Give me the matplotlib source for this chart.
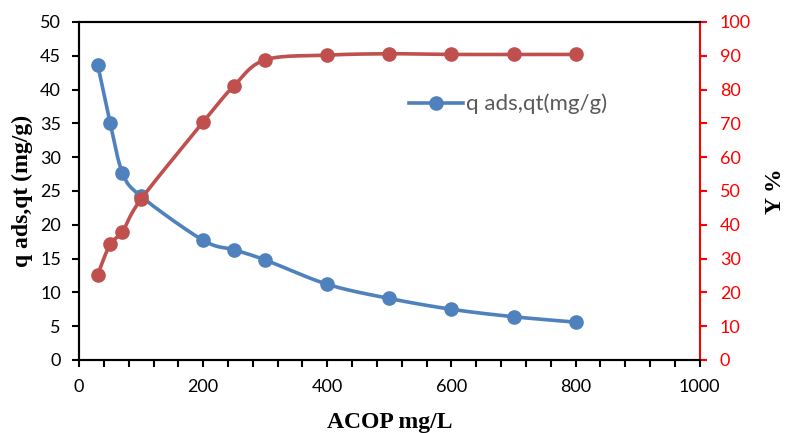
import numpy as np
import matplotlib
matplotlib.use("Agg")
import matplotlib.pyplot as plt
from matplotlib.ticker import MultipleLocator

# data
acop = [30, 50, 70, 100, 200, 250, 300, 400, 500, 600, 700, 800]
q_ads = [43.7, 35.1, 27.7, 24.2, 17.7, 16.3, 14.8, 11.2, 9.1, 7.5, 6.4, 5.6]
y_pct = [25.2, 34.2, 38.0, 47.6, 70.4, 81.2, 88.8, 90.2, 90.6, 90.4, 90.4, 90.4]

blue = "#4F81BD"
red = "#C0504D"


def smooth(x, y, xs, ys, n=30):
    # Excel-like smoothing: cubic bezier with catmull-rom control points,
    # computed in pixel-ish space so the curve shape follows the plot
    px = np.asarray(x, float) * xs
    py = np.asarray(y, float) * ys
    ox, oy = [], []
    for i in range(len(px) - 1):
        p0 = (px[max(i - 1, 0)], py[max(i - 1, 0)])
        p1 = (px[i], py[i])
        p2 = (px[i + 1], py[i + 1])
        p3 = (px[min(i + 2, len(px) - 1)], py[min(i + 2, len(px) - 1)])
        c1 = (p1[0] + (p2[0] - p0[0]) / 6, p1[1] + (p2[1] - p0[1]) / 6)
        c2 = (p2[0] - (p3[0] - p1[0]) / 6, p2[1] - (p3[1] - p1[1]) / 6)
        t = np.linspace(0, 1, n)
        bx = (1 - t) ** 3 * p1[0] + 3 * (1 - t) ** 2 * t * c1[0] + 3 * (1 - t) * t ** 2 * c2[0] + t ** 3 * p2[0]
        by = (1 - t) ** 3 * p1[1] + 3 * (1 - t) ** 2 * t * c1[1] + 3 * (1 - t) * t ** 2 * c2[1] + t ** 3 * p2[1]
        ox.extend(bx)
        oy.extend(by)
    return np.array(ox) / xs, np.array(oy) / ys


fig = plt.figure(figsize=(7.88, 4.33), dpi=100)
ax = fig.add_axes([0.1003, 0.1686, 0.7877, 0.7806])
ax2 = ax.twinx()

tick_font = "Lato"
tick_size = 13

# blue series (left axis)
sx, sy = smooth(acop, q_ads, 621 / 1000, 338 / 50)
ax.plot(sx, sy, color=blue, lw=2.6, zorder=3)
ax.plot(acop, q_ads, "o", color=blue, ms=9.5, zorder=4)
ax.plot([], [], "-o", color=blue, lw=2.6, ms=9.5, label="q ads,qt(mg/g)")

# red series (right axis)
rx, ry = smooth(acop, y_pct, 621 / 1000, 338 / 100)
ax2.plot(rx, ry, color=red, lw=2.6, zorder=3)
ax2.plot(acop, y_pct, "o", color=red, ms=9.5, zorder=4)

ax.set_xlim(0, 1000)
ax.set_ylim(0, 50)
ax2.set_ylim(0, 100)

ax.xaxis.set_major_locator(MultipleLocator(200))
ax.xaxis.set_minor_locator(MultipleLocator(40))
ax.yaxis.set_major_locator(MultipleLocator(5))
ax2.yaxis.set_major_locator(MultipleLocator(10))

ax.tick_params(axis="x", which="major", direction="out", length=5, width=1.5, labelsize=tick_size, pad=9)
ax.tick_params(axis="x", which="minor", direction="out", length=5, width=1.5)
ax.tick_params(axis="y", direction="out", length=5, width=1.5, labelsize=tick_size, pad=8)
ax2.tick_params(axis="y", direction="out", length=5, width=1.5, labelsize=tick_size, pad=9.5,
                colors="#FF0000")

for lab in ax.get_xticklabels() + ax.get_yticklabels() + ax2.get_yticklabels():
    lab.set_fontfamily(tick_font)

for s in ["left", "bottom", "top"]:
    ax.spines[s].set_linewidth(1.5)
    ax2.spines[s].set_linewidth(1.5)
ax2.spines["right"].set_color("#FF0000")
ax2.spines["right"].set_linewidth(1.5)
ax.spines["right"].set_visible(False)

label_font = dict(fontfamily="Liberation Serif", fontweight="bold", fontsize=17)
ax.set_xlabel("ACOP mg/L", labelpad=12, **label_font)
ax.set_ylabel("q ads,qt (mg/g)", labelpad=5, **label_font)
ax2.set_ylabel("Y %", labelpad=10, **label_font)

leg = ax.legend(loc="center left", bbox_to_anchor=(0.532, 0.757), frameon=False,
                prop={"family": tick_font, "size": 16}, handlelength=2.4,
                handletextpad=0.15, borderpad=0, borderaxespad=0)
for t in leg.get_texts():
    t.set_color("#595959")

fig.savefig("out.png", dpi=100)
